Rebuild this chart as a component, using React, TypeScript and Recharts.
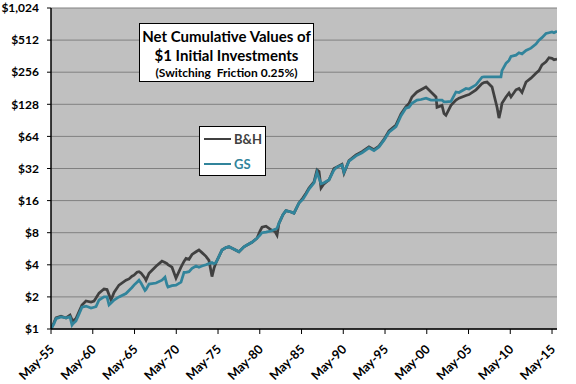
import { LineChart, Line, XAxis, YAxis, CartesianGrid } from 'recharts';

// decimal years, read off the picture (May-55 .. end of 2015)
const dates = [
  1955.33, 1955.69, 1955.93, 1956.53, 1957.13, 1957.61, 1957.85, 1957.96, 1958.32, 1958.68,
  1959.04, 1959.52, 1960.12, 1960.48, 1960.72, 1961.08, 1961.68, 1962.04, 1962.28, 1962.52,
  1962.88, 1963.47, 1964.31, 1964.67, 1965.03, 1965.27, 1965.63, 1965.87, 1966.11, 1966.59,
  1966.71, 1967.07, 1967.91, 1968.62, 1968.98, 1969.22, 1969.34, 1969.82, 1970.3, 1970.9,
  1971.26, 1971.5, 1971.86, 1972.22, 1972.7, 1973.05, 1973.41, 1973.89, 1974.25, 1974.61,
  1974.85, 1975.09, 1975.45, 1975.81, 1976.29, 1976.65, 1977.25, 1977.84, 1978.44, 1978.92,
  1979.4, 1980.0, 1980.36, 1980.6, 1981.08, 1981.68, 1982.16, 1982.4, 1982.63, 1983.11,
  1983.47, 1984.07, 1984.43, 1985.03, 1985.51, 1985.87, 1986.23, 1986.83, 1987.19, 1987.43,
  1987.67, 1988.02, 1988.62, 1989.22, 1989.58, 1990.18, 1990.42, 1991.02, 1991.86, 1992.58,
  1993.41, 1994.01, 1994.61, 1995.21, 1995.81, 1996.65, 1997.25, 1997.84, 1998.2, 1998.56,
  1999.16, 1999.64, 2000.24, 2000.84, 2001.44, 2001.56, 2002.16, 2002.4, 2002.63, 2003.23,
  2003.83, 2004.19, 2005.03, 2005.39, 2006.23, 2006.95, 2007.19, 2007.55, 2008.15, 2008.75,
  2008.98, 2009.22, 2009.34, 2009.82, 2010.18, 2010.42, 2011.02, 2011.38, 2011.74, 2012.22,
  2012.81, 2013.41, 2013.77, 2014.13, 2014.61, 2014.97, 2015.33, 2015.57, 2015.93,
];

const bhValues = [
  1.0, 1.15, 1.27, 1.32, 1.27, 1.35, 1.22, 1.19, 1.25, 1.45,
  1.68, 1.83, 1.79, 1.83, 1.95, 2.17, 2.37, 2.35, 2.1, 1.87,
  2.2, 2.58, 2.87, 2.95, 3.13, 3.2, 3.41, 3.45, 3.35, 3.0,
  2.87, 3.33, 3.88, 4.33, 4.2, 4.1, 4.0, 3.8, 3.0, 3.8,
  4.3, 4.6, 4.5, 5.0, 5.3, 5.5, 5.2, 4.8, 4.4, 3.1,
  3.7, 4.2, 4.8, 5.5, 5.8, 5.9, 5.6, 5.3, 5.9, 6.2,
  6.5, 7.1, 8.3, 9.0, 9.2, 8.5, 8.2, 7.6, 9.8, 11.8,
  12.9, 12.5, 12.2, 15.2, 17.0, 18.8, 21, 24, 31, 30,
  21, 23, 25, 32, 33, 35, 29, 38, 43, 46,
  51, 48, 52, 60, 72, 82, 104, 122, 130, 150,
  167, 175, 186, 167, 150, 120, 125, 105, 101, 125,
  140, 146, 155, 158, 175, 200, 205, 207, 186, 120,
  95, 115, 131, 150, 163, 150, 175, 180, 165, 207,
  225, 250, 265, 300, 320, 350, 345, 335, 340,
];

const gsValues = [
  1.0, 1.12, 1.25, 1.3, 1.27, 1.3, 1.09, 1.12, 1.19, 1.38,
  1.6, 1.64, 1.57, 1.6, 1.62, 1.87, 2.0, 2.0, 1.68, 1.75,
  1.87, 2.0, 2.15, 2.3, 2.45, 2.58, 2.75, 2.87, 2.7, 2.3,
  2.35, 2.64, 2.7, 2.87, 3.06, 2.6, 2.47, 2.55, 2.58, 2.75,
  3.4, 3.4, 3.45, 3.7, 3.9, 3.8, 3.9, 4.0, 4.1, 4.2,
  4.1, 4.2, 4.8, 5.5, 5.8, 5.9, 5.6, 5.3, 5.9, 6.2,
  6.5, 7.1, 7.6, 8.0, 8.1, 8.3, 8.6, 8.8, 9.8, 11.8,
  12.9, 12.5, 12.2, 15.2, 16.5, 18.3, 20.5, 23.5, 29.5, 26,
  23, 23.5, 25, 31, 33, 34.5, 29.5, 37.5, 42, 45,
  50, 47, 51, 59, 70, 79, 100, 118, 120, 131,
  140, 142, 146, 140, 140, 140, 140, 135, 135, 136,
  167, 165, 180, 178, 195, 230, 232, 232, 232, 232,
  232, 232, 265, 310, 330, 360, 370, 390, 380, 410,
  430, 470, 512, 540, 590, 600, 610, 600, 620,
];

const tickYears = [1955, 1960, 1965, 1970, 1975, 1980, 1985, 1990, 1995, 2000, 2005, 2010, 2015];
const dollarTicks = [1, 2, 4, 8, 16, 32, 64, 128, 256, 512, 1024];

const titleLines = ['Net Cumulative Values of', '$1 Initial Investments', '(Switching\u00a0 Friction 0.25%)'];
const seriesNames = ['B&H', 'GS'];

const rows = dates.map((t, i) => ({ t, bh: bhValues[i], gs: gsValues[i] }));
const mayTicks = tickYears.map((y) => y + 4 / 12);

const FONT = 'Lato, "Open Sans", sans-serif';
const BH_COLOR = '#404040';
const GS_COLOR = '#31849B';
const colors = [BH_COLOR, GS_COLOR];

function XTick({ x, y, payload }: any) {
  const yr = Math.round(payload.value - 4 / 12) % 100;
  return (
    <g transform={`translate(${x + 4},${y + 16})`}>
      <text
        x={0}
        y={0}
        textAnchor="end"
        transform="rotate(-45)"
        fontFamily={FONT}
        fontWeight="bold"
        fontSize={12.5}
        fill="#000"
      >
        {`May-${String(yr).padStart(2, '0')}`}
      </text>
    </g>
  );
}

export default function App() {
  return (
    <div style={{ position: 'absolute', left: 0, top: 0, width: 576, height: 384, background: '#fff' }}>
      <LineChart width={576} height={384} data={rows} margin={{ top: 8, right: 19, bottom: 0, left: 0 }}>
        <CartesianGrid vertical={false} stroke="#808080" strokeWidth={1} fill="#C0C0C0" fillOpacity={1} />
        <XAxis
          dataKey="t"
          type="number"
          domain={[1955.33, 2015.93]}
          ticks={mayTicks}
          interval={0}
          height={55}
          tick={<XTick />}
          tickSize={5}
          tickMargin={0}
          axisLine={{ stroke: '#000', strokeWidth: 1.5 }}
          tickLine={{ stroke: '#000' }}
          allowDataOverflow
        />
        <YAxis
          type="number"
          scale="log"
          domain={[1, 1024]}
          ticks={dollarTicks}
          interval={0}
          width={51}
          tickSize={4}
          tickMargin={8}
          allowDataOverflow
          tickFormatter={(v: number) => '$' + v.toLocaleString('en-US')}
          tick={{ fontFamily: FONT, fontWeight: 'bold', fontSize: 12, fill: '#000' }}
          axisLine={{ stroke: '#000', strokeWidth: 1.5 }}
          tickLine={{ stroke: '#000' }}
        />
        <Line
          type="linear"
          dataKey="bh"
          name="B&H"
          stroke={BH_COLOR}
          strokeWidth={2.75}
          dot={false}
          isAnimationActive={false}
        />
        <Line
          type="linear"
          dataKey="gs"
          name="GS"
          stroke={GS_COLOR}
          strokeWidth={2.75}
          dot={false}
          isAnimationActive={false}
        />
      </LineChart>

      {/* legend box */}
      <div
        style={{
          position: 'absolute',
          left: 199,
          top: 126,
          width: 67,
          height: 50,
          background: '#fff',
          border: '1.5px solid #000',
          boxSizing: 'border-box',
          paddingTop: 2,
        }}
      >
        {seriesNames.map((name, i) => (
          <div key={name} style={{ display: 'flex', alignItems: 'center', height: 20, marginBottom: 5 }}>
            <div style={{ width: 27, height: 2.5, background: colors[i], marginLeft: 4, marginRight: 3 }} />
            <span style={{ fontFamily: FONT, fontWeight: 'bold', fontSize: 13, color: colors[i] }}>{name}</span>
          </div>
        ))}
      </div>

      {/* title box */}
      <div
        style={{
          position: 'absolute',
          left: 139,
          top: 23,
          width: 175,
          height: 59,
          boxSizing: 'border-box',
          border: '1.5px solid #000',
          background: '#fff',
          textAlign: 'center',
          fontFamily: FONT,
          fontWeight: 'bold',
          color: '#000',
          paddingTop: 3,
        }}
      >
        <div style={{ fontSize: 15, lineHeight: '19px' }}>{titleLines[0]}</div>
        <div style={{ fontSize: 15, lineHeight: '19px' }}>{titleLines[1]}</div>
        <div style={{ fontSize: 12, lineHeight: '16px' }}>{titleLines[2]}</div>
      </div>
    </div>
  );
}
